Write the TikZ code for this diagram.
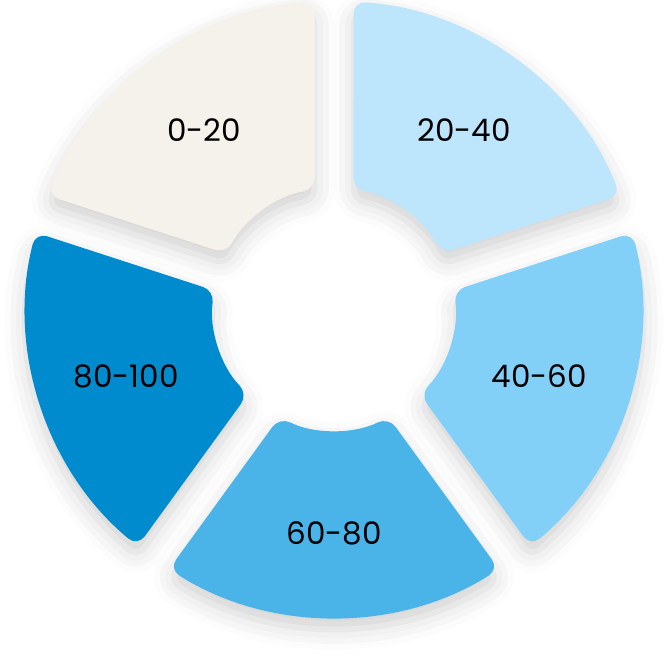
\documentclass[tikz,border=0pt]{standalone}
\usepackage{fontspec}
\setmainfont{Poppins}
\usetikzlibrary{shadows.blur}
\definecolor{segA}{HTML}{F5F1EB}
\definecolor{segB}{HTML}{BDE6FD}
\definecolor{segC}{HTML}{82D0F8}
\definecolor{segD}{HTML}{4AB4E8}
\definecolor{segE}{HTML}{008BCE}
\tikzset{
  segshape/.style={rounded corners=12pt, blur shadow={shadow xshift=0pt, shadow yshift=-11pt, shadow blur radius=20pt, shadow opacity=18}},
  seglabel/.style={font=\fontsize{31}{36}\selectfont, text=black, inner sep=0pt}
}
\newcommand\donutseg[5]{%
  \pgfmathsetmacro\oa{#1-36+3.63}%
  \pgfmathsetmacro\ob{#1+36-3.63}%
  \pgfmathsetmacro\ia{#1+36-9.27}%
  \pgfmathsetmacro\ib{#1-36+9.27}%
  \fill[segshape, fill=#2] (\oa:308) arc[start angle=\oa, end angle=\ob, radius=308]
     -- (\ia:121) arc[start angle=\ia, end angle=\ib, radius=121] -- cycle;
  \node[seglabel] (#4) at (#1:#5) {#3};%
}
\begin{document}
\begin{tikzpicture}[x=1pt,y=1pt]
\useasboundingbox (0,0) rectangle (668,-668);
\begin{scope}[shift={(334,-309)}]
\donutseg{126}{segA}{0-20}{labA}{221}
\donutseg{54}{segB}{20-40}{labB}{221}
\donutseg{-18}{segC}{40-60}{labC}{216}
\donutseg{270}{segD}{60-80}{labD}{224}
\donutseg{198}{segE}{80-100}{labE}{218.5}
\end{scope}
\end{tikzpicture}
\end{document}
